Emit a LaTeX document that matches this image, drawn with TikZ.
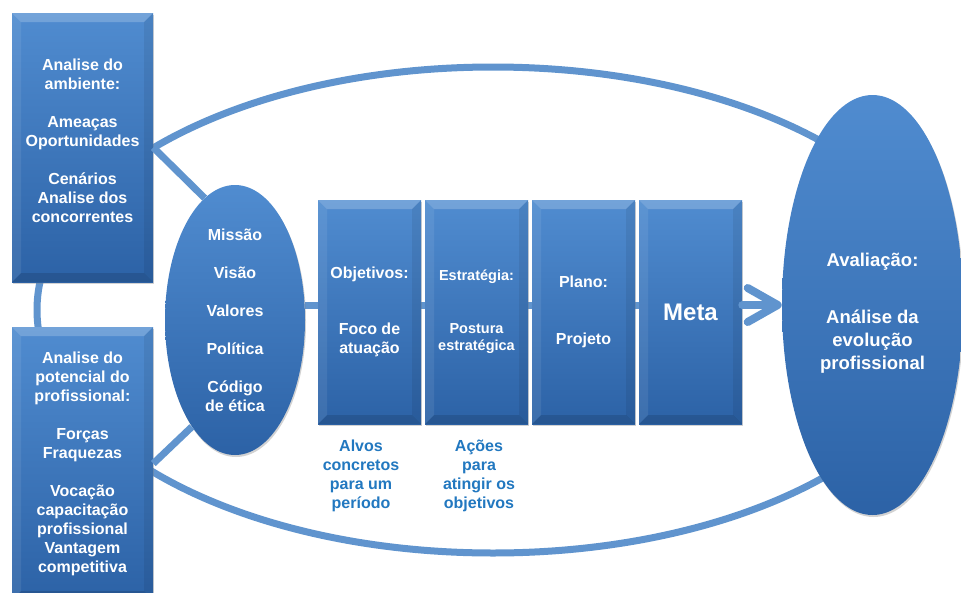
\documentclass[tikz,border=0pt]{standalone}
\usepackage{fontspec}
\setmainfont{Liberation Sans}
\usetikzlibrary{arrows.meta,shapes,shadows,backgrounds}

\definecolor{azulclaro}{RGB}{80,140,208}
\definecolor{azulescuro}{RGB}{44,98,166}
\definecolor{azullinha}{RGB}{96,148,206}
\definecolor{azultexto}{RGB}{34,120,192}

\begin{document}
\begin{tikzpicture}[x=1pt,y=-1pt,node distance=107pt,semithick]
  \tikzstyle{bisel}=[path picture={
    \fill[white,opacity=.2] (path picture bounding box.north west) -- (path picture bounding box.north east)
      -- ([shift={(-9pt,-9pt)}]path picture bounding box.north east) -- ([shift={(9pt,-9pt)}]path picture bounding box.north west) -- cycle;
    \fill[white,opacity=.08] (path picture bounding box.north west) -- ([shift={(9pt,-9pt)}]path picture bounding box.north west)
      -- ([shift={(9pt,9pt)}]path picture bounding box.south west) -- (path picture bounding box.south west) -- cycle;
    \fill[black,opacity=.12] (path picture bounding box.south west) -- ([shift={(9pt,9pt)}]path picture bounding box.south west)
      -- ([shift={(-9pt,9pt)}]path picture bounding box.south east) -- (path picture bounding box.south east) -- cycle;
    \fill[black,opacity=.07] (path picture bounding box.south east) -- ([shift={(-9pt,9pt)}]path picture bounding box.south east)
      -- ([shift={(-9pt,-9pt)}]path picture bounding box.north east) -- (path picture bounding box.north east) -- cycle;}]
  \tikzstyle{caixa}=[rectangle,top color=azulclaro,bottom color=azulescuro,text=white,align=center,
                     font=\bfseries\fontsize{16}{19}\selectfont,bisel,
                     drop shadow={shadow xshift=1pt,shadow yshift=-2pt,opacity=.35}]
  \tikzstyle{etapa}=[caixa,minimum width=103pt,minimum height=224pt]
  \tikzstyle{bolha}=[ellipse,inner sep=0pt,top color=azulclaro,bottom color=azulescuro,text=white,align=center,
                     font=\bfseries\fontsize{16}{19}\selectfont,
                     drop shadow={shadow xshift=1pt,shadow yshift=-2pt,opacity=.35}]
  \tikzstyle{linha}=[line width=7pt,draw=azullinha]
  \tikzstyle{seta}=[line width=8pt,draw=azullinha,line cap=round,
                    -{Straight Barb[length=30pt,width=34pt,line cap=round,line join=round]}]
  \tikzstyle{rotulo}=[text=azultexto,align=center,font=\bfseries\fontsize{16}{19}\selectfont]

  \useasboundingbox (0,0) rectangle (961,592);
  \clip (0,0) rectangle (961,592);

  % grande ciclo por tras
  \draw[linha] (493,310) ellipse [x radius=456, y radius=243];

  \node[caixa,minimum width=141pt,minimum height=269pt] (ambiente) at (82.5,147.5)
       {Analise do\\ambiente:\\[19pt]Ameaças\\Oportunidades\\[19pt]Cenários\\Analise dos\\concorrentes\\[-5pt]\mbox{}};
  \node[caixa,minimum width=141pt,minimum height=273pt] (potencial) at (82.5,463.5)
       {Analise do\\potencial do\\profissional:\\[19pt]Forças\\Fraquezas\\[19pt]Vocação\\capacitação\\profissional\\Vantagem\\competitiva};
  \node[bolha,minimum width=140pt,minimum height=270pt] (missao) at (235,320)
       {Missão\\[19pt]Visão\\[19pt]Valores\\[19pt]Política\\[19pt]Código\\de ética};

  \node[etapa]         (objetivos) at (369.5,312)     {Objetivos:\\[37pt]Foco de\\atuação};
  \node[etapa,font=\bfseries\fontsize{14.5}{17}\selectfont]
                       (estrategia) [right of=objetivos] {Estratégia:\\[36pt]Postura\\estratégica};
  \node[etapa]         (plano) [right of=estrategia]   {Plano:\\[38pt]Projeto};
  \node[etapa,font=\bfseries\fontsize{24}{28}\selectfont]
                       (meta) [right of=plano]         {Meta};

  \node[bolha,minimum width=181pt,minimum height=420pt,font=\bfseries\fontsize{18.5}{23}\selectfont]
       (avaliacao) at (872.5,305) {\mbox{}\\[7pt]Avaliação:\\[34pt]Análise da\\evolução\\profissional};

  \node[rotulo] (alvos) at (361,476) {Alvos\\concretos\\para um\\período};
  \node[rotulo] (acoes) at (479,476) {Ações\\para\\atingir os\\objetivos};

  \draw[linha] (ambiente.east) -- (missao.104);
  \draw[linha] (potencial.east) -- (missao.248);
  \draw[seta] (meta.east |- avaliacao.west) -- (avaliacao.west);

  \begin{pgfonlayer}{background}
    \fill[white] (0,0) rectangle (961,592);
    \draw[linha] (missao.12) -- (missao.12 -| meta.center);
  \end{pgfonlayer}
\end{tikzpicture}
\end{document}
